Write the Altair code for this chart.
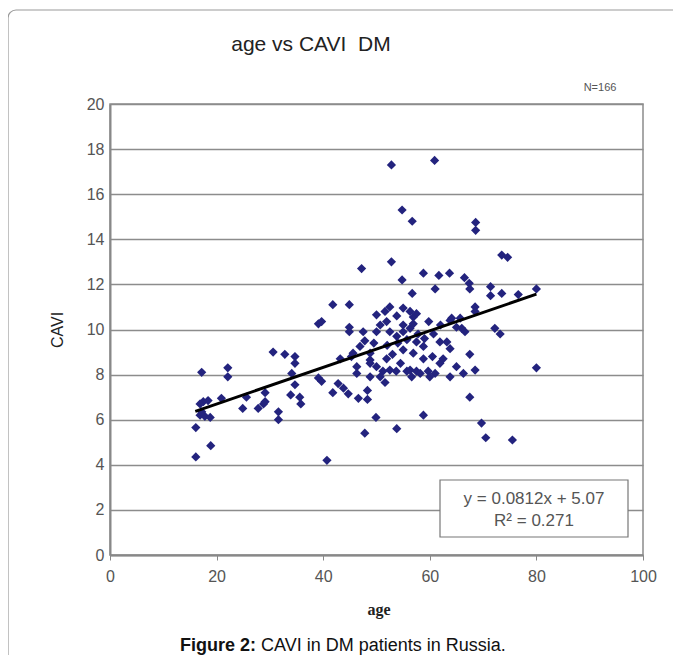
import altair as alt
import pandas as pd

# ---- data ----
age = [52.8, 60.9, 54.8, 56.7, 68.6, 68.6, 73.5, 74.6, 47.2, 52.8,
       54.8, 58.8, 61.7, 63.7, 66.5, 67.4, 67.5, 71.4, 71.4, 73.5,
       76.6, 80.0, 56.7, 61.0, 68.5, 68.5, 59.8, 63.8, 65.0, 66.6,
       72.2, 73.2, 67.5, 68.5, 66.3, 80.0, 41.8, 44.9, 39.1, 39.7,
       44.9, 44.9, 47.5, 47.8, 46.9, 30.6, 32.8, 34.7, 34.7, 34.1,
       17.2, 22.1, 22.1, 43.2, 45.3, 46.3, 46.3, 48.8, 17.5, 16.9,
       18.4, 16.9, 17.8, 18.8, 17.2, 20.9, 16.1, 18.9, 16.1, 25.6,
       24.9, 27.8, 28.8, 29.1, 29.1, 31.6, 31.6, 34.7, 33.9, 35.6,
       35.8, 39.1, 39.7, 40.7, 41.8, 42.8, 43.8, 44.7, 46.6, 48.3,
       48.3, 47.8, 48.8, 49.9, 51.6, 56.6, 67.5, 58.8, 53.8, 69.7,
       70.5, 75.5, 51.2, 53.7, 55.7, 57.5, 59.7, 61.0, 50.0, 51.6,
       52.5, 53.8, 55.0, 56.3, 56.9, 51.9, 50.7, 50.0, 52.5, 53.8,
       55.0, 55.0, 56.3, 56.9, 55.7, 57.5, 58.8, 60.7, 61.9, 63.2,
       64.1, 65.7, 63.8, 66.0, 65.0, 58.8, 56.9, 55.0, 51.9, 50.0,
       48.8, 52.5, 50.7, 56.3, 58.2, 60.0, 61.9, 63.8, 45.6, 48.8,
       62.0, 54.0, 57.8, 53.0, 57.5, 49.5, 59.0, 60.5, 62.5, 54.5,
       52.0]
cavi = [17.3, 17.5, 15.3, 14.8, 14.75, 14.4, 13.3, 13.2, 12.7, 13.0,
        12.2, 12.5, 12.4, 12.5, 12.3, 12.05, 11.8, 11.9, 11.5, 11.6,
        11.55, 11.8, 11.6, 11.8, 11.0, 10.8, 10.35, 10.4, 10.1, 9.9,
        10.05, 9.8, 8.9, 8.2, 8.05, 8.3, 11.1, 11.1, 10.25, 10.35,
        10.1, 9.9, 9.9, 9.5, 9.25, 9.0, 8.9, 8.8, 8.5, 8.05,
        8.1, 8.3, 7.9, 8.7, 8.8, 8.35, 8.05, 8.65, 6.8, 6.7,
        6.85, 6.2, 6.15, 6.1, 6.35, 6.95, 5.65, 4.85, 4.35, 7.0,
        6.5, 6.5, 6.7, 6.8, 7.2, 6.35, 6.0, 7.55, 7.1, 7.0,
        6.7, 7.85, 7.7, 4.2, 7.2, 7.6, 7.4, 7.15, 6.95, 7.3,
        6.9, 5.4, 7.9, 6.1, 7.65, 7.9, 7.0, 6.2, 5.6, 5.85,
        5.2, 5.1, 8.15, 8.15, 8.15, 8.15, 8.15, 8.05, 10.65, 10.8,
        11.0, 10.6, 10.95, 10.8, 10.55, 10.35, 10.2, 9.9, 9.9, 9.7,
        10.2, 9.9, 10.05, 10.25, 9.55, 9.45, 9.25, 9.8, 9.45, 9.45,
        10.5, 10.5, 9.15, 10.05, 8.35, 8.7, 8.95, 9.1, 8.7, 8.35,
        8.95, 8.2, 7.9, 8.2, 8.05, 7.9, 8.5, 7.9, 8.95, 8.5,
        10.2, 9.4, 9.8, 8.9, 10.7, 9.4, 9.6, 8.8, 8.7, 8.5,
        9.3]

slope = 0.0812
intercept = 5.07
fit_range = [16, 80]

x_ticks = [0, 20, 40, 60, 80, 100]
y_ticks = [0, 2, 4, 6, 8, 10, 12, 14, 16, 18, 20]

title_text = "age vs CAVI\u00a0\u00a0DM"
n_text = "N=166"
eq_lines = ["y = 0.0812x + 5.07", "R² = 0.271"]
caption_bold = "Figure 2:"
caption_rest = "CAVI in DM patients in Russia."

W, H = 533, 451

df = pd.DataFrame({"age": age, "CAVI": cavi})
fit_df = pd.DataFrame({"age": fit_range,
                       "CAVI": [slope * a + intercept for a in fit_range]})
one = pd.DataFrame({"k": [0]})

x_scale = alt.Scale(domain=[0, 100], nice=False)
y_scale = alt.Scale(domain=[0, 20], nice=False)

points = alt.Chart(df).mark_point(
    shape="diamond", filled=True, size=85, color="#23237e", opacity=1
).encode(
    x=alt.X("age:Q", scale=x_scale,
            axis=alt.Axis(values=x_ticks, title=None, grid=False,
                          labelFontSize=16, labelColor="#555555",
                          labelFont="Liberation Sans", labelPadding=8,
                          labelFlush=False,
                          tickColor="#888888", tickSize=5, domainColor="#888888",
                          domainWidth=2)),
    y=alt.Y("CAVI:Q", scale=y_scale,
            axis=alt.Axis(values=y_ticks, title=None, grid=True,
                          gridColor="#8c8c8c", gridWidth=1.5,
                          labelFontSize=16, labelColor="#555555",
                          labelFont="Liberation Sans", labelPadding=6,
                          labelFlush=False,
                          tickSize=0, domainColor="#888888", domainWidth=2)),
)

line = alt.Chart(fit_df).mark_line(color="black", strokeWidth=3).encode(
    x=alt.X("age:Q", scale=x_scale),
    y=alt.Y("CAVI:Q", scale=y_scale),
)

frame = alt.Chart(one).mark_rect(
    fill=None, stroke="#9a9a9a", strokeWidth=1.2, cornerRadius=8
).encode(x=alt.value(-102), x2=alt.value(620), y=alt.value(-94), y2=alt.value(620))

def txt(text, x, y, size, color="#222222", weight="normal", font="Liberation Sans",
        align="center", angle=0):
    return alt.Chart(one).mark_text(
        text=text, fontSize=size, color=color, fontWeight=weight, font=font,
        align=align, baseline="middle", angle=angle
    ).encode(x=alt.value(x), y=alt.value(y))

eq_box = alt.Chart(one).mark_rect(
    fill="white", stroke="#777777", strokeWidth=1.2
).encode(x=alt.value(330), x2=alt.value(518), y=alt.value(376), y2=alt.value(433))

layers = [
    frame, points, line, eq_box,
    txt(eq_lines[0], 424, 395, 17, color="#555555"),
    txt(eq_lines[1], 424, 417, 17, color="#555555"),
    txt(title_text, 201, -59, 21, color="#222222"),
    txt(n_text, 490, -16, 11, color="#555555"),
    txt("CAVI", -52, 226, 16, color="#222222", angle=270),
    txt("age", 269, 506, 16, color="#222222", weight="bold", font="Liberation Serif"),
    txt(caption_bold, 146, 542, 18, color="#111111", weight="bold", align="right"),
    txt(caption_rest, 151, 542, 18, color="#111111", align="left"),
]

chart = alt.layer(*layers).properties(
    width=W, height=H,
    autosize=alt.AutoSizeParams(type="none"),
    padding={"left": 102, "top": 96, "right": 30, "bottom": 100},
    background="white",
).configure_view(stroke="#8c8c8c", strokeWidth=1.5)

chart.save("out.html", embed_options={"renderer": "svg", "actions": False})
